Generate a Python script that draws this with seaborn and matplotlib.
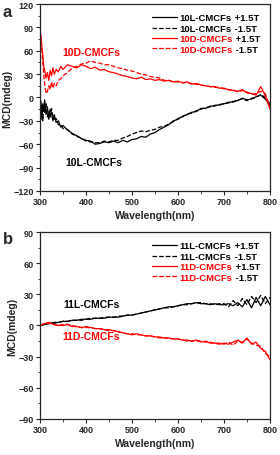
import numpy as np
import pandas as pd
import matplotlib
matplotlib.use("Agg")
import matplotlib.pyplot as plt
import seaborn as sns
from matplotlib.ticker import MultipleLocator
from matplotlib.transforms import IdentityTransform

# ---- panel a data ----
wl_a = [300, 302, 304, 306, 308, 310, 313, 316, 319, 322, 325, 328, 331, 335, 340, 345, 350,
        360, 370, 380, 390, 400, 410, 420, 430, 440, 450, 460, 470, 480, 490, 500,
        510, 520, 530, 540, 550, 560, 570, 580, 590, 600, 610, 620, 630, 640, 650,
        660, 670, 680, 690, 700, 710, 720, 730, 740, 750, 760, 770, 780, 790, 800]
l10_pos = [-20, -5, -28, -8, -18, -3, -22, -12, -28, -15, -20, -30, -22, -32, -30, -38, -36,
           -42, -46, -49, -53, -55, -56, -60, -59, -57, -58, -56, -58, -55, -57, -54,
           -53, -50, -51, -47, -45, -41, -38, -35, -30, -28, -24, -22, -19, -18, -14,
           -14, -11, -11, -9, -8, -7, -5, -4, -1, -3, -2, 1, 3, -2, -10]
l10_neg = [-12, -25, -10, -30, -12, -20, -8, -25, -18, -26, -14, -25, -28, -27, -35, -34, -40,
           -41, -47, -50, -52, -56, -57, -58, -58, -56, -57, -55, -55, -52, -50, -47,
           -45, -43, -44, -42, -41, -38, -37, -34, -31, -27, -25, -21, -20, -17, -15,
           -13, -12, -10, -10, -8, -6, -6, -3, -2, -4, -1, 0, 4, 0, -8]
d10_pos = [85, 80, 65, 55, 40, 35, 25, 32, 22, 35, 28, 38, 30, 36, 33, 40, 36,
           42, 40, 38, 42, 40, 37, 39, 35, 36, 33, 32, 30, 28, 27, 25,
           24, 26, 23, 24, 22, 23, 21, 22, 20, 21, 19, 20, 17, 18, 16,
           15, 14, 14, 12, 12, 10, 9, 8, 10, 6, 5, 3, 14, 2, -15]
d10_neg = [80, 72, 60, 45, 30, 18, 5, 8, 15, 10, 20, 12, 18, 15, 22, 24, 28,
           32, 38, 40, 43, 44, 47, 45, 44, 42, 42, 40, 38, 37, 35, 34,
           32, 30, 29, 27, 26, 25, 22, 22, 20, 20, 19, 19, 18, 17, 16,
           15, 14, 13, 13, 11, 10, 10, 7, 9, 7, 4, 5, 8, 5, -12]

# ---- panel b data ----
wl_b = list(range(300, 801, 10))
l11_pos = [0, 1, 2, 3, 3, 4, 4, 5, 5, 6, 6, 6, 7, 7, 7, 8, 8, 8, 9, 10, 10,
           11, 12, 13, 14, 15, 16, 17, 18, 18, 19, 20, 21, 21, 22, 21, 21, 20, 21, 20, 20,
           21, 19, 22, 18, 25, 17, 27, 19, 28, 20]
l11_neg = [0, 1, 2, 2, 3, 4, 4, 5, 5, 5, 6, 7, 7, 7, 8, 8, 8, 9, 9, 10, 10,
           11, 12, 13, 14, 15, 16, 17, 17, 18, 19, 20, 20, 21, 22, 22, 21, 21, 20, 21, 21,
           18, 24, 19, 26, 20, 28, 22, 29, 21, 27]
d11_pos = [0, 2, 3, 1, 0, 0, 1, -1, -1, -2, -1, -2, -3, -3, -4, -4, -5, -6, -7, -8, -9,
           -8, -9, -10, -10, -11, -11, -12, -12, -13, -13, -14, -14, -15, -14, -16, -15, -17, -17, -18, -17,
           -18, -16, -14, -17, -12, -18, -16, -22, -25, -33]
d11_neg = [0, 2, 2, 1, 0, 1, 1, 0, -1, -2, -2, -2, -3, -3, -4, -5, -5, -6, -7, -8, -8,
           -9, -9, -10, -10, -11, -12, -12, -12, -13, -13, -14, -15, -15, -15, -15, -16, -16, -17, -17, -18,
           -16, -19, -15, -16, -13, -17, -19, -20, -27, -30]

panel_a = [("10L-CMCFs", " +1.5T", l10_pos, "black", "-"),
           ("10L-CMCFs", " -1.5T", l10_neg, "black", "--"),
           ("10D-CMCFs", " +1.5T", d10_pos, "red", "-"),
           ("10D-CMCFs", " -1.5T", d10_neg, "red", "--")]
panel_b = [("11L-CMCFs", " +1.5T", l11_pos, "black", "-"),
           ("11L-CMCFs", " -1.5T", l11_neg, "black", "--"),
           ("11D-CMCFs", " +1.5T", d11_pos, "red", "-"),
           ("11D-CMCFs", " -1.5T", d11_neg, "red", "--")]

sns.set_style("ticks")
plt.rcParams['font.family'] = ['Liberation Sans', 'DejaVu Sans']
plt.rcParams['font.weight'] = 'bold'
plt.rcParams['axes.labelweight'] = 'bold'

fig = plt.figure(figsize=(2.8, 4.56), dpi=100)
ax_a = fig.add_axes([0.143, 0.579, 0.821, 0.41])
ax_b = fig.add_axes([0.143, 0.079, 0.821, 0.41])

legends = []
LEG_FS = 6.8


def draw(ax, wl, series, ylim, ystep):
    for name, field, vals, col, ls in series:
        df = pd.DataFrame({"wl": wl, "mcd": vals})
        sns.lineplot(data=df, x="wl", y="mcd", color=col, linestyle=ls,
                     linewidth=0.9, ax=ax, label=name + field)
    ax.set_xlim(300, 800)
    ax.set_ylim(*ylim)
    ax.xaxis.set_major_locator(MultipleLocator(100))
    ax.xaxis.set_minor_locator(MultipleLocator(50))
    ax.yaxis.set_major_locator(MultipleLocator(ystep))
    ax.yaxis.set_minor_locator(MultipleLocator(ystep / 2))
    ax.tick_params(which='major', length=3, width=0.8, labelsize=6.5, pad=1.5)
    ax.tick_params(which='minor', length=1.8, width=0.6)
    for s in ax.spines.values():
        s.set_linewidth(0.9)
    ax.set_xlabel("Wavelength(nm)", fontsize=7.5, labelpad=3)
    ax.set_ylabel("MCD(mdeg)", fontsize=7.5, labelpad=1)
    handles, labels = ax.get_legend_handles_labels()
    leg = ax.legend(handles, [s[0] for s in series], loc='upper left',
                    bbox_to_anchor=(0.46, 0.985), frameon=False, fontsize=LEG_FS,
                    handlelength=2.6, handletextpad=0.3, labelspacing=0.15,
                    borderpad=0.2)
    for t, s in zip(leg.get_texts(), series):
        t.set_color(s[3])
    legends.append((leg, series))


draw(ax_a, wl_a, panel_a, (-120, 120), 30)
draw(ax_b, wl_b, panel_b, (-90, 90), 30)

ax_a.text(411, 59, "10D-CMCFs", color="red", fontsize=7.5, fontweight='bold', ha='center', va='center')
ax_a.text(416, -83, "10L-CMCFs", color="black", fontsize=7.5, fontweight='bold', ha='center', va='center')
ax_b.text(411, 21, "11L-CMCFs", color="black", fontsize=7.5, fontweight='bold', ha='center', va='center')
ax_b.text(411, -10, "11D-CMCFs", color="red", fontsize=7.5, fontweight='bold', ha='center', va='center')

fig.text(0.01, 0.972, "a", fontsize=12, fontweight='bold', va='center')
fig.text(0.01, 0.475, "b", fontsize=12, fontweight='bold', va='center')

# field strength part of each legend entry stays black
fig.canvas.draw()
for leg, series in legends:
    for t, s in zip(leg.get_texts(), series):
        bb = t.get_window_extent()
        fig.text(bb.x1, bb.y0, s[1], transform=IdentityTransform(),
                 fontsize=LEG_FS, fontweight='bold', color='black', va='bottom')

fig.savefig("out.png", dpi=100)
